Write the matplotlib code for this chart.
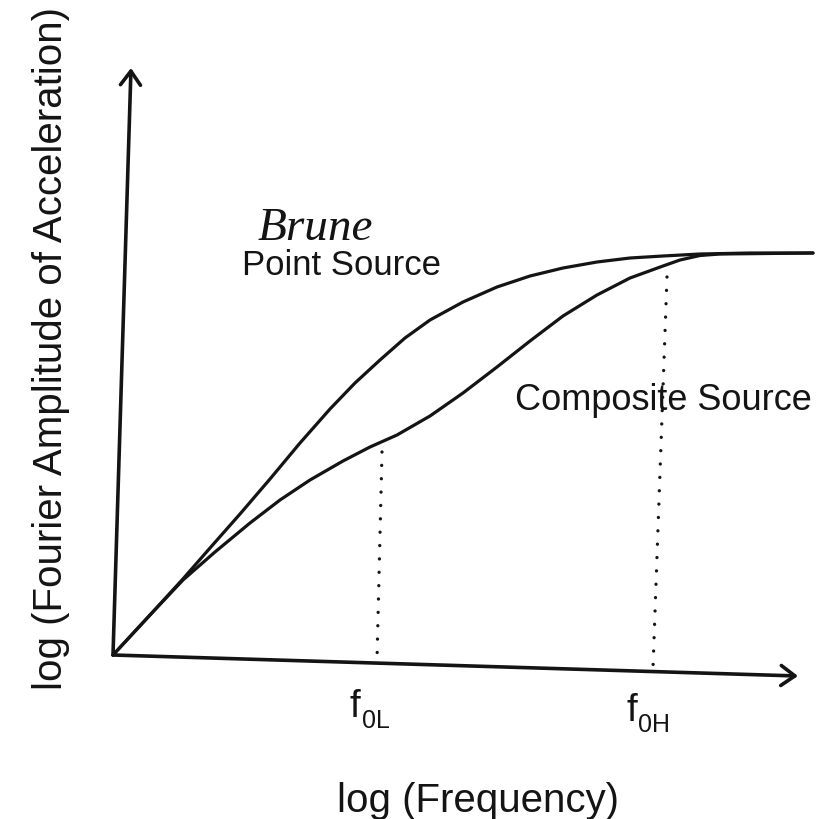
import matplotlib.pyplot as plt
from matplotlib import font_manager

# log(f) / log(A) readings, origin of the sketch at (0, 0)
point_logf = [0.00, 0.37, 0.69, 0.97, 1.27, 1.57, 1.87, 2.17, 2.42, 2.67, 2.92,
              3.17, 3.50, 3.84, 4.17, 4.50, 4.84, 5.17, 5.50, 5.87, 6.37, 7.00]
point_logA = [0.00, 0.40, 0.75, 1.07, 1.41, 1.76, 2.12, 2.46, 2.72, 2.95, 3.17,
              3.35, 3.53, 3.68, 3.79, 3.87, 3.93, 3.97, 3.99, 4.01, 4.02, 4.02]

comp_logf = [0.00, 0.37, 0.70, 1.02, 1.37, 1.67, 1.97, 2.30, 2.57, 2.84, 3.17,
             3.50, 3.84, 4.17, 4.50, 4.84, 5.17, 5.50, 5.67, 5.87, 6.07, 7.00]
comp_logA = [0.00, 0.40, 0.75, 1.03, 1.32, 1.55, 1.75, 1.94, 2.08, 2.20, 2.39,
             2.62, 2.88, 3.14, 3.39, 3.60, 3.77, 3.89, 3.95, 3.995, 4.01, 4.02]

# corner frequencies: ends of each dotted guide
corner_names = ['0L', '0H']
corner_top = [(2.69, 2.03), (5.54, 3.78)]
corner_bottom = [(2.64, -0.05), (5.40, -0.13)]

# axis arrow tips
x_tip = (6.85, -0.21)
y_tip = (0.18, 5.87)

ink = '#141414'

names = {f.name for f in font_manager.fontManager.ttflist}
if 'Liberation Sans Narrow' in names:
    label_font, label_size = 'Liberation Sans Narrow', 35
else:
    label_font, label_size = 'Liberation Sans', 29

fig = plt.figure(figsize=(8.25, 8.19), dpi=100)
ax = fig.add_axes([0, 0, 1, 1])
ax.set_xlim(-1.13, 7.12)
ax.set_ylim(-1.64, 6.55)
ax.axis('off')

# axes drawn as arrows
arrow = dict(arrowstyle='->,head_length=0.5,head_width=0.36', color=ink,
             lw=2.6, shrinkA=0, shrinkB=0, mutation_scale=20)
ax.annotate('', xy=x_tip, xytext=(0, 0), arrowprops=arrow)
ax.annotate('', xy=y_tip, xytext=(0, 0), arrowprops=arrow)

ax.plot(point_logf, point_logA, color=ink, lw=2.3,
        solid_capstyle='round', solid_joinstyle='round')
ax.plot(comp_logf, comp_logA, color=ink, lw=2.3,
        solid_capstyle='round', solid_joinstyle='round')

for (xt, yt), (xb, yb) in zip(corner_top, corner_bottom):
    ax.plot([xt, xb], [yt, yb], color=ink, lw=2.4, dashes=(0.01, 4.0),
            dash_capstyle='round')

# f_0L and f_0H under the axis
for name, (xb, yb) in zip(corner_names, corner_bottom):
    ax.text(xb - 0.27, -0.62 + (yb + 0.05) * 0.5, 'f', fontsize=28,
            family='Liberation Sans', color=ink, ha='left', va='baseline')
    ax.text(xb - 0.15, -0.73 + (yb + 0.05) * 0.5, name, fontsize=18,
            family='Liberation Sans', color=ink, ha='left', va='baseline')

ax.text(1.45, 4.15, 'Brune', fontsize=34, family='Liberation Serif',
        style='italic', color=ink, ha='left', va='baseline')
ax.text(1.29, 3.80, 'Point Source', fontsize=25, family='Liberation Sans',
        color=ink, ha='left', va='baseline')
ax.text(4.02, 2.45, 'Composite Source', fontsize=26, family='Liberation Sans',
        color=ink, ha='left', va='baseline')

ax.text(3.65, -1.57, 'log (Frequency)', fontsize=label_size, family=label_font,
        color=ink, ha='center', va='baseline')
ax.text(-0.62, 3.07, 'log (Fourier Amplitude of Acceleration)',
        fontsize=label_size, family=label_font, color=ink, rotation=90,
        ha='center', va='center')

fig.savefig('out.png', dpi=100)
